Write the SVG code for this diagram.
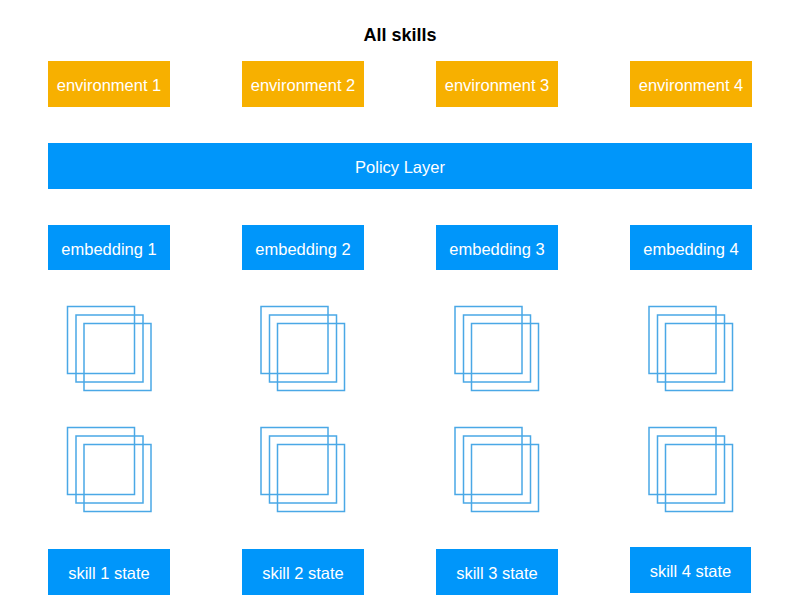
<svg xmlns="http://www.w3.org/2000/svg" width="800" height="600" viewBox="0 0 800 600">
<style>
text{font-family:"Liberation Sans",Arial,sans-serif;text-anchor:middle}
.t{font-size:16.5px;fill:#ffffff}
.env{fill:#f7b000}
.blue{fill:#0096fa}
.sq{fill:none;stroke:#4aa8e6;stroke-width:1.5}
</style>
<defs>
<g id="stack">
<rect class="sq" x="0" y="0" width="67" height="67"/>
<rect class="sq" x="8.5" y="8.5" width="67" height="67"/>
<rect class="sq" x="16.5" y="17" width="67" height="67"/>
</g>
</defs>
<rect width="800" height="600" fill="#ffffff"/>
<text x="400" y="41" style="font-size:18px;font-weight:bold;fill:#000">All skills</text>

<g id="env1"><rect class="env" x="48" y="61" width="122" height="46"/><text class="t" x="109" y="91">environment 1</text></g>
<g id="env2"><rect class="env" x="242" y="61" width="122" height="46"/><text class="t" x="303" y="91">environment 2</text></g>
<g id="env3"><rect class="env" x="436" y="61" width="122" height="46"/><text class="t" x="497" y="91">environment 3</text></g>
<g id="env4"><rect class="env" x="630" y="61" width="122" height="46"/><text class="t" x="691" y="91">environment 4</text></g>

<g id="policy"><rect class="blue" x="48" y="143" width="704" height="46"/><text class="t" x="400" y="173">Policy Layer</text></g>

<g id="emb1"><rect class="blue" x="48" y="225" width="122" height="45"/><text class="t" x="109" y="254.5">embedding 1</text></g>
<g id="emb2"><rect class="blue" x="242" y="225" width="122" height="45"/><text class="t" x="303" y="254.5">embedding 2</text></g>
<g id="emb3"><rect class="blue" x="436" y="225" width="122" height="45"/><text class="t" x="497" y="254.5">embedding 3</text></g>
<g id="emb4"><rect class="blue" x="630" y="225" width="122" height="45"/><text class="t" x="691" y="254.5">embedding 4</text></g>

<g id="layers1a"><use href="#stack" x="67.5" y="306.5"/></g>
<g id="layers2a"><use href="#stack" x="261" y="306.5"/></g>
<g id="layers3a"><use href="#stack" x="455" y="306.5"/></g>
<g id="layers4a"><use href="#stack" x="649" y="306.5"/></g>

<g id="layers1b"><use href="#stack" x="67.5" y="427.5"/></g>
<g id="layers2b"><use href="#stack" x="261" y="427.5"/></g>
<g id="layers3b"><use href="#stack" x="455" y="427.5"/></g>
<g id="layers4b"><use href="#stack" x="649" y="427.5"/></g>

<g id="skill1"><rect class="blue" x="48" y="549" width="122" height="46"/><text class="t" x="109" y="578.5">skill 1 state</text></g>
<g id="skill2"><rect class="blue" x="242" y="549" width="122" height="46"/><text class="t" x="303" y="578.5">skill 2 state</text></g>
<g id="skill3"><rect class="blue" x="436" y="549" width="122" height="46"/><text class="t" x="497" y="578.5">skill 3 state</text></g>
<g id="skill4"><rect class="blue" x="630" y="547" width="121" height="46"/><text class="t" x="690.5" y="577">skill 4 state</text></g>
<g id="connectors"/>
</svg>
